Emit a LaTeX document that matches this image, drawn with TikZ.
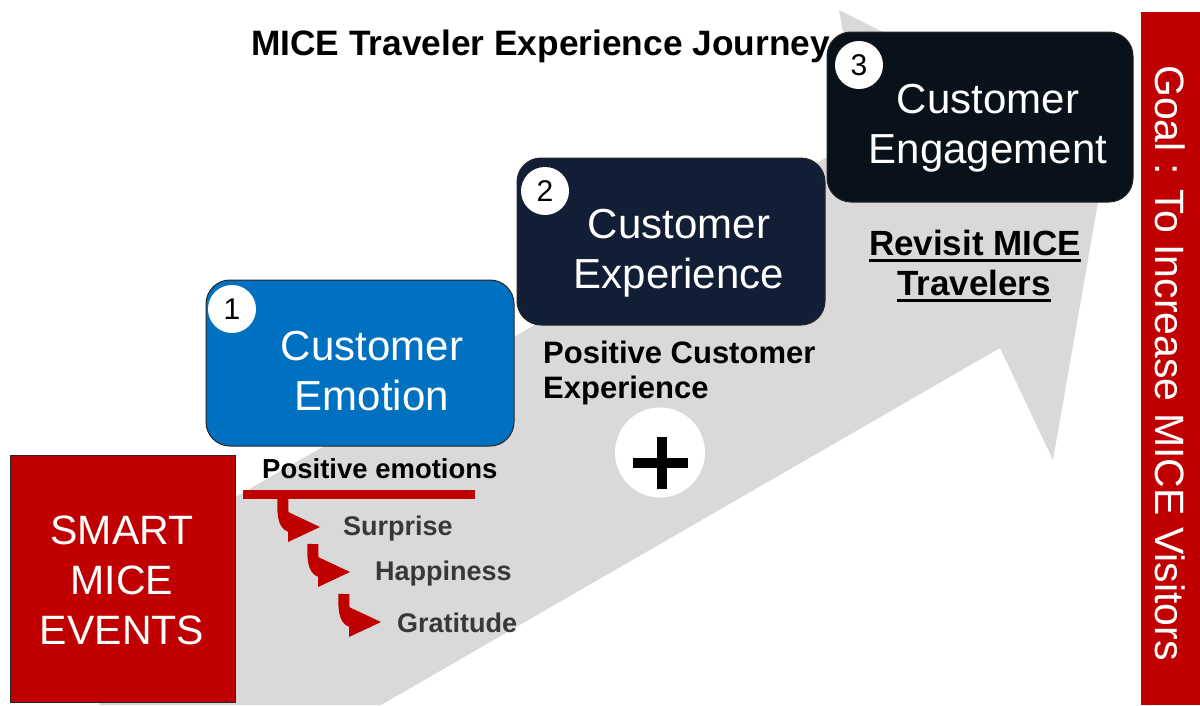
\documentclass[tikz,border=0pt]{standalone}
\usepackage{fontspec}
\setmainfont{Liberation Sans}
\definecolor{shaftgray}{HTML}{D9D9D9}
\definecolor{micered}{HTML}{C00000}
\definecolor{emoblue}{HTML}{0070C0}
\definecolor{expnavy}{HTML}{121E36}
\definecolor{engdark}{HTML}{09111A}
\definecolor{softblack}{HTML}{383838}
\begin{document}
\begin{tikzpicture}[x=1pt,y=-1pt,
  stage/.style={draw=black!85, line width=1pt, rounded corners=24pt, inner sep=0pt},
  badge/.style={circle, fill=white, minimum size=48pt, inner sep=0pt,
                font=\fontsize{30}{30}\selectfont},
  stagetext/.style={text=white, align=center, inner sep=0pt,
                    font=\fontsize{42}{50}\selectfont},
  boldlabel/.style={inner sep=0pt, font=\bfseries\fontsize{#1}{#1}\selectfont},
  feeling/.style={inner sep=0pt, anchor=base west, text=softblack,
                  font=\bfseries\fontsize{27}{27}\selectfont},
  hookstem/.style={draw=micered, line width=11pt},
  headfill/.style={fill=micered}]
\useasboundingbox (0,0) rectangle (1200,705);

% broad grey arrow sweeping up to the right
\fill[shaftgray] (100,705) -- (44,607) -- (862,137) -- (839,10) -- (1108,145)
  -- (1053,460) -- (1000,348) -- (381,705) -- cycle;

% title
\node[boldlabel=35.3, anchor=base west] (title) at (251,55)
  {MICE Traveler Experience Journey};

% starting block (multi-line nodes are placed by their last baseline)
\node[draw=black!85, line width=1pt, fill=micered, minimum width=225pt,
      minimum height=247pt, inner sep=0pt] (smart) at (122.5,578.5) {};
\node[stagetext, font=\fontsize{41}{50}\selectfont, anchor=base] (smartT)
  at (122,644) {SMART\\MICE\\EVENTS};

% stage 1
\node[stage, fill=emoblue, minimum width=308pt, minimum height=166pt] (emo)
  at (360,363) {};
\node[stagetext, anchor=base] (emoT) at (372,410) {Customer\\Emotion};
\node[badge] (b1) at (232,309) {1};

% stage 2
\node[stage, fill=expnavy, minimum width=308pt, minimum height=167pt] (exp)
  at (671,241.5) {};
\node[stagetext, anchor=base] (expT) at (679,288) {Customer\\Experience};
\node[badge] (b2) at (545,191) {2};

% stage 3
\node[stage, fill=engdark, minimum width=306pt, minimum height=170pt] (eng)
  at (980,117) {};
\node[stagetext, anchor=base] (engT) at (988,163) {Customer\\Engagement};
\node[badge] (b3) at (859,65) {3};

% goal banner
\node[fill=micered, minimum width=59pt, minimum height=693pt, inner sep=0pt]
  (goal) at (1170.5,358.5) {};
\node[rotate=-90, text=white, inner sep=0pt, font=\fontsize{41}{41}\selectfont]
  (goalT) at (1170,363) {Goal : To Increase MICE Visitors};

% emotions under stage 1
\node[boldlabel=27.5, anchor=base west] (pe) at (262,478) {Positive emotions};
\coordinate (barL) at (243,494.5);
\coordinate (barR) at (475,494.5);
\draw[micered, line width=9pt] (barL) -- (barR);

\foreach \sx/\sy/\nm in {283/499/a, 313/544/b, 344/594/c}{
  \coordinate (\nm s) at (\sx,\sy);
  \coordinate (\nm e) at (\sx+10,\sy+28);
  \draw[hookstem] (\nm s) .. controls (\sx-1,\sy+20) and (\sx+2,\sy+28) .. (\nm e);
  \fill[headfill] (\sx+5,\sy+13) -- (\sx+37,\sy+28) -- (\sx+5,\sy+43) -- cycle;
}
\node[feeling] (f1) at (343,535) {Surprise};
\node[feeling] (f2) at (375,580) {Happiness};
\node[feeling] (f3) at (397,632) {Gratitude};

% stage 2 outcome
\node[boldlabel=31, anchor=base west, align=left,
      font=\bfseries\fontsize{31}{35}\selectfont] (pce) at (543,398)
  {Positive Customer\\Experience};
\node[circle, fill=white, minimum size=90pt, inner sep=0pt] (plus) at (660,452.5) {};
\draw[line width=10pt, shift={(plus.center)}] (-27,10.5) -- (28,10.5)
  (1.5,-15.5) -- (1.5,36.5);

% stage 3 outcome
\node[boldlabel=35, anchor=base] (rv1) at (975,255) {Revisit MICE};
\node[boldlabel=35, anchor=base] (rv2) at (974,295) {Travelers};
\draw[line width=3pt] ([yshift=-5pt]rv1.base west) -- ([yshift=-5pt]rv1.base east);
\draw[line width=3pt] ([yshift=-5pt]rv2.base west) -- ([yshift=-5pt]rv2.base east);
\end{tikzpicture}
\end{document}
